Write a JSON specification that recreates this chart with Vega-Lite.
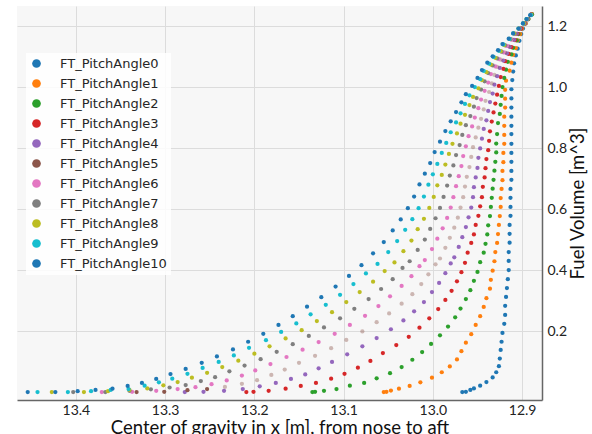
{
"$schema": "https://vega.github.io/schema/vega-lite/v6.json",
"width": 525,
"height": 394,
"autosize": {"type": "none"},
"padding": {"left": 17, "top": 6, "right": 50, "bottom": 34},
"background": "white",
"config": {"view": {"fill": "#f7f7f7", "stroke": null}},
"data": {"values": [
{"s":0,"x":12.967,"y":0},{"s":0,"x":12.963,"y":0.001},{"s":0,"x":12.958,"y":0.007},{"s":0,"x":12.954,"y":0.012},{"s":0,"x":12.947,"y":0.021},{"s":0,"x":12.940,"y":0.033},{"s":0,"x":12.933,"y":0.048},{"s":0,"x":12.929,"y":0.065},{"s":0,"x":12.926,"y":0.085},{"s":0,"x":12.925,"y":0.110},{"s":0,"x":12.924,"y":0.138},{"s":0,"x":12.923,"y":0.165},{"s":0,"x":12.922,"y":0.194},{"s":0,"x":12.920,"y":0.224},{"s":0,"x":12.919,"y":0.253},{"s":0,"x":12.919,"y":0.283},{"s":0,"x":12.918,"y":0.312},{"s":0,"x":12.917,"y":0.341},{"s":0,"x":12.916,"y":0.370},{"s":0,"x":12.915,"y":0.400},{"s":0,"x":12.915,"y":0.430},{"s":0,"x":12.915,"y":0.459},{"s":0,"x":12.914,"y":0.490},{"s":0,"x":12.914,"y":0.519},{"s":0,"x":12.914,"y":0.548},{"s":0,"x":12.913,"y":0.578},{"s":0,"x":12.913,"y":0.607},{"s":0,"x":12.913,"y":0.637},{"s":0,"x":12.913,"y":0.666},{"s":0,"x":12.912,"y":0.696},{"s":0,"x":12.912,"y":0.725},{"s":0,"x":12.912,"y":0.755},{"s":0,"x":12.912,"y":0.784},{"s":0,"x":12.912,"y":0.814},{"s":0,"x":12.912,"y":0.846},{"s":0,"x":12.912,"y":0.873},{"s":0,"x":12.912,"y":0.903},{"s":0,"x":12.912,"y":0.933},{"s":0,"x":12.912,"y":0.963},{"s":0,"x":12.912,"y":0.993},{"s":0,"x":12.911,"y":1.023},{"s":0,"x":12.910,"y":1.051},{"s":0,"x":12.909,"y":1.078},{"s":0,"x":12.907,"y":1.104},{"s":0,"x":12.905,"y":1.126},{"s":0,"x":12.903,"y":1.152},{"s":0,"x":12.901,"y":1.174},{"s":0,"x":12.899,"y":1.192},{"s":0,"x":12.896,"y":1.209},{"s":0,"x":12.893,"y":1.223},{"s":0,"x":12.889,"y":1.239},
{"s":1,"x":13.055,"y":0},{"s":1,"x":13.052,"y":0.001},{"s":1,"x":13.047,"y":0.005},{"s":1,"x":13.038,"y":0.011},{"s":1,"x":13.026,"y":0.020},{"s":1,"x":13.014,"y":0.032},{"s":1,"x":13.001,"y":0.047},{"s":1,"x":12.990,"y":0.065},{"s":1,"x":12.981,"y":0.084},{"s":1,"x":12.973,"y":0.107},{"s":1,"x":12.968,"y":0.134},{"s":1,"x":12.963,"y":0.162},{"s":1,"x":12.957,"y":0.190},{"s":1,"x":12.952,"y":0.220},{"s":1,"x":12.947,"y":0.249},{"s":1,"x":12.943,"y":0.279},{"s":1,"x":12.940,"y":0.308},{"s":1,"x":12.936,"y":0.339},{"s":1,"x":12.935,"y":0.368},{"s":1,"x":12.933,"y":0.398},{"s":1,"x":12.931,"y":0.429},{"s":1,"x":12.930,"y":0.459},{"s":1,"x":12.928,"y":0.489},{"s":1,"x":12.927,"y":0.518},{"s":1,"x":12.926,"y":0.548},{"s":1,"x":12.925,"y":0.577},{"s":1,"x":12.924,"y":0.607},{"s":1,"x":12.924,"y":0.636},{"s":1,"x":12.923,"y":0.666},{"s":1,"x":12.922,"y":0.695},{"s":1,"x":12.922,"y":0.725},{"s":1,"x":12.921,"y":0.754},{"s":1,"x":12.921,"y":0.784},{"s":1,"x":12.920,"y":0.814},{"s":1,"x":12.920,"y":0.843},{"s":1,"x":12.920,"y":0.873},{"s":1,"x":12.920,"y":0.903},{"s":1,"x":12.919,"y":0.933},{"s":1,"x":12.919,"y":0.962},{"s":1,"x":12.919,"y":0.991},{"s":1,"x":12.918,"y":1.021},{"s":1,"x":12.914,"y":1.054},{"s":1,"x":12.912,"y":1.080},{"s":1,"x":12.910,"y":1.106},{"s":1,"x":12.907,"y":1.128},{"s":1,"x":12.905,"y":1.153},{"s":1,"x":12.902,"y":1.174},{"s":1,"x":12.900,"y":1.192},{"s":1,"x":12.896,"y":1.209},{"s":1,"x":12.893,"y":1.223},{"s":1,"x":12.889,"y":1.239},
{"s":2,"x":13.135,"y":0},{"s":2,"x":13.132,"y":0.001},{"s":2,"x":13.122,"y":0.004},{"s":2,"x":13.108,"y":0.010},{"s":2,"x":13.093,"y":0.021},{"s":2,"x":13.077,"y":0.030},{"s":2,"x":13.063,"y":0.045},{"s":2,"x":13.048,"y":0.062},{"s":2,"x":13.035,"y":0.082},{"s":2,"x":13.023,"y":0.106},{"s":2,"x":13.012,"y":0.131},{"s":2,"x":13.002,"y":0.158},{"s":2,"x":12.992,"y":0.186},{"s":2,"x":12.983,"y":0.215},{"s":2,"x":12.975,"y":0.245},{"s":2,"x":12.969,"y":0.274},{"s":2,"x":12.963,"y":0.305},{"s":2,"x":12.958,"y":0.334},{"s":2,"x":12.954,"y":0.365},{"s":2,"x":12.950,"y":0.394},{"s":2,"x":12.947,"y":0.426},{"s":2,"x":12.943,"y":0.457},{"s":2,"x":12.941,"y":0.486},{"s":2,"x":12.939,"y":0.517},{"s":2,"x":12.938,"y":0.547},{"s":2,"x":12.936,"y":0.577},{"s":2,"x":12.935,"y":0.607},{"s":2,"x":12.934,"y":0.637},{"s":2,"x":12.933,"y":0.667},{"s":2,"x":12.932,"y":0.696},{"s":2,"x":12.931,"y":0.726},{"s":2,"x":12.930,"y":0.755},{"s":2,"x":12.929,"y":0.786},{"s":2,"x":12.929,"y":0.815},{"s":2,"x":12.928,"y":0.846},{"s":2,"x":12.927,"y":0.882},{"s":2,"x":12.925,"y":0.912},{"s":2,"x":12.924,"y":0.942},{"s":2,"x":12.923,"y":0.971},{"s":2,"x":12.922,"y":1.000},{"s":2,"x":12.920,"y":1.030},{"s":2,"x":12.918,"y":1.057},{"s":2,"x":12.916,"y":1.083},{"s":2,"x":12.912,"y":1.107},{"s":2,"x":12.910,"y":1.129},{"s":2,"x":12.906,"y":1.153},{"s":2,"x":12.904,"y":1.174},{"s":2,"x":12.901,"y":1.192},{"s":2,"x":12.897,"y":1.209},{"s":2,"x":12.893,"y":1.223},{"s":2,"x":12.889,"y":1.238},
{"s":3,"x":13.209,"y":0},{"s":3,"x":13.201,"y":0.001},{"s":3,"x":13.184,"y":0.004},{"s":3,"x":13.165,"y":0.011},{"s":3,"x":13.148,"y":0.020},{"s":3,"x":13.131,"y":0.030},{"s":3,"x":13.114,"y":0.044},{"s":3,"x":13.099,"y":0.060},{"s":3,"x":13.084,"y":0.080},{"s":3,"x":13.070,"y":0.102},{"s":3,"x":13.056,"y":0.128},{"s":3,"x":13.041,"y":0.154},{"s":3,"x":13.027,"y":0.181},{"s":3,"x":13.015,"y":0.211},{"s":3,"x":13.004,"y":0.242},{"s":3,"x":12.994,"y":0.272},{"s":3,"x":12.986,"y":0.302},{"s":3,"x":12.979,"y":0.332},{"s":3,"x":12.973,"y":0.363},{"s":3,"x":12.968,"y":0.393},{"s":3,"x":12.964,"y":0.424},{"s":3,"x":12.961,"y":0.457},{"s":3,"x":12.957,"y":0.489},{"s":3,"x":12.954,"y":0.517},{"s":3,"x":12.952,"y":0.548},{"s":3,"x":12.949,"y":0.578},{"s":3,"x":12.947,"y":0.609},{"s":3,"x":12.945,"y":0.639},{"s":3,"x":12.944,"y":0.673},{"s":3,"x":12.942,"y":0.704},{"s":3,"x":12.941,"y":0.734},{"s":3,"x":12.940,"y":0.764},{"s":3,"x":12.938,"y":0.793},{"s":3,"x":12.937,"y":0.824},{"s":3,"x":12.936,"y":0.855},{"s":3,"x":12.934,"y":0.887},{"s":3,"x":12.932,"y":0.917},{"s":3,"x":12.930,"y":0.946},{"s":3,"x":12.928,"y":0.975},{"s":3,"x":12.926,"y":1.004},{"s":3,"x":12.924,"y":1.033},{"s":3,"x":12.921,"y":1.060},{"s":3,"x":12.919,"y":1.085},{"s":3,"x":12.915,"y":1.109},{"s":3,"x":12.912,"y":1.131},{"s":3,"x":12.908,"y":1.154},{"s":3,"x":12.905,"y":1.175},{"s":3,"x":12.901,"y":1.192},{"s":3,"x":12.897,"y":1.209},{"s":3,"x":12.894,"y":1.223},{"s":3,"x":12.890,"y":1.238},
{"s":4,"x":13.278,"y":0},{"s":4,"x":13.257,"y":0.001},{"s":4,"x":13.234,"y":0.004},{"s":4,"x":13.213,"y":0.010},{"s":4,"x":13.194,"y":0.019},{"s":4,"x":13.176,"y":0.030},{"s":4,"x":13.159,"y":0.043},{"s":4,"x":13.143,"y":0.058},{"s":4,"x":13.128,"y":0.078},{"s":4,"x":13.113,"y":0.099},{"s":4,"x":13.096,"y":0.124},{"s":4,"x":13.079,"y":0.150},{"s":4,"x":13.063,"y":0.177},{"s":4,"x":13.047,"y":0.206},{"s":4,"x":13.033,"y":0.235},{"s":4,"x":13.021,"y":0.265},{"s":4,"x":13.010,"y":0.295},{"s":4,"x":13.001,"y":0.328},{"s":4,"x":12.993,"y":0.358},{"s":4,"x":12.986,"y":0.390},{"s":4,"x":12.980,"y":0.422},{"s":4,"x":12.976,"y":0.442},{"s":4,"x":12.971,"y":0.476},{"s":4,"x":12.967,"y":0.508},{"s":4,"x":12.963,"y":0.541},{"s":4,"x":12.960,"y":0.573},{"s":4,"x":12.957,"y":0.605},{"s":4,"x":12.955,"y":0.639},{"s":4,"x":12.954,"y":0.672},{"s":4,"x":12.952,"y":0.704},{"s":4,"x":12.950,"y":0.735},{"s":4,"x":12.949,"y":0.768},{"s":4,"x":12.947,"y":0.799},{"s":4,"x":12.945,"y":0.831},{"s":4,"x":12.943,"y":0.863},{"s":4,"x":12.940,"y":0.891},{"s":4,"x":12.938,"y":0.922},{"s":4,"x":12.936,"y":0.951},{"s":4,"x":12.933,"y":0.979},{"s":4,"x":12.931,"y":1.008},{"s":4,"x":12.928,"y":1.036},{"s":4,"x":12.925,"y":1.063},{"s":4,"x":12.921,"y":1.087},{"s":4,"x":12.917,"y":1.111},{"s":4,"x":12.914,"y":1.132},{"s":4,"x":12.909,"y":1.155},{"s":4,"x":12.906,"y":1.175},{"s":4,"x":12.902,"y":1.192},{"s":4,"x":12.897,"y":1.209},{"s":4,"x":12.894,"y":1.223},{"s":4,"x":12.890,"y":1.238},
{"s":5,"x":13.332,"y":0},{"s":5,"x":13.301,"y":0.001},{"s":5,"x":13.275,"y":0.006},{"s":5,"x":13.253,"y":0.010},{"s":5,"x":13.233,"y":0.017},{"s":5,"x":13.214,"y":0.027},{"s":5,"x":13.197,"y":0.039},{"s":5,"x":13.181,"y":0.056},{"s":5,"x":13.166,"y":0.074},{"s":5,"x":13.150,"y":0.096},{"s":5,"x":13.132,"y":0.119},{"s":5,"x":13.114,"y":0.144},{"s":5,"x":13.097,"y":0.171},{"s":5,"x":13.079,"y":0.199},{"s":5,"x":13.063,"y":0.229},{"s":5,"x":13.049,"y":0.258},{"s":5,"x":13.035,"y":0.290},{"s":5,"x":13.023,"y":0.321},{"s":5,"x":13.013,"y":0.354},{"s":5,"x":13.005,"y":0.386},{"s":5,"x":12.997,"y":0.419},{"s":5,"x":12.992,"y":0.438},{"s":5,"x":12.986,"y":0.473},{"s":5,"x":12.981,"y":0.506},{"s":5,"x":12.976,"y":0.539},{"s":5,"x":12.972,"y":0.572},{"s":5,"x":12.969,"y":0.605},{"s":5,"x":12.966,"y":0.639},{"s":5,"x":12.964,"y":0.674},{"s":5,"x":12.962,"y":0.706},{"s":5,"x":12.959,"y":0.738},{"s":5,"x":12.957,"y":0.771},{"s":5,"x":12.955,"y":0.803},{"s":5,"x":12.952,"y":0.835},{"s":5,"x":12.949,"y":0.867},{"s":5,"x":12.946,"y":0.896},{"s":5,"x":12.943,"y":0.927},{"s":5,"x":12.941,"y":0.955},{"s":5,"x":12.937,"y":0.984},{"s":5,"x":12.934,"y":1.012},{"s":5,"x":12.931,"y":1.040},{"s":5,"x":12.928,"y":1.066},{"s":5,"x":12.924,"y":1.090},{"s":5,"x":12.919,"y":1.113},{"s":5,"x":12.915,"y":1.134},{"s":5,"x":12.911,"y":1.156},{"s":5,"x":12.907,"y":1.175},{"s":5,"x":12.902,"y":1.192},{"s":5,"x":12.897,"y":1.209},{"s":5,"x":12.894,"y":1.223},{"s":5,"x":12.890,"y":1.238},
{"s":6,"x":13.371,"y":0},{"s":6,"x":13.337,"y":0.001},{"s":6,"x":13.310,"y":0.004},{"s":6,"x":13.286,"y":0.010},{"s":6,"x":13.266,"y":0.016},{"s":6,"x":13.248,"y":0.026},{"s":6,"x":13.231,"y":0.038},{"s":6,"x":13.214,"y":0.054},{"s":6,"x":13.199,"y":0.071},{"s":6,"x":13.182,"y":0.092},{"s":6,"x":13.164,"y":0.115},{"s":6,"x":13.146,"y":0.139},{"s":6,"x":13.128,"y":0.164},{"s":6,"x":13.110,"y":0.191},{"s":6,"x":13.093,"y":0.220},{"s":6,"x":13.076,"y":0.250},{"s":6,"x":13.061,"y":0.282},{"s":6,"x":13.048,"y":0.314},{"s":6,"x":13.035,"y":0.348},{"s":6,"x":13.024,"y":0.380},{"s":6,"x":13.015,"y":0.413},{"s":6,"x":13.009,"y":0.433},{"s":6,"x":13.001,"y":0.469},{"s":6,"x":12.995,"y":0.503},{"s":6,"x":12.989,"y":0.537},{"s":6,"x":12.984,"y":0.571},{"s":6,"x":12.980,"y":0.605},{"s":6,"x":12.977,"y":0.639},{"s":6,"x":12.974,"y":0.675},{"s":6,"x":12.971,"y":0.708},{"s":6,"x":12.968,"y":0.741},{"s":6,"x":12.966,"y":0.774},{"s":6,"x":12.963,"y":0.806},{"s":6,"x":12.960,"y":0.839},{"s":6,"x":12.956,"y":0.871},{"s":6,"x":12.953,"y":0.900},{"s":6,"x":12.949,"y":0.931},{"s":6,"x":12.946,"y":0.959},{"s":6,"x":12.942,"y":0.988},{"s":6,"x":12.938,"y":1.015},{"s":6,"x":12.935,"y":1.043},{"s":6,"x":12.930,"y":1.068},{"s":6,"x":12.926,"y":1.092},{"s":6,"x":12.921,"y":1.114},{"s":6,"x":12.917,"y":1.135},{"s":6,"x":12.912,"y":1.156},{"s":6,"x":12.908,"y":1.175},{"s":6,"x":12.903,"y":1.192},{"s":6,"x":12.898,"y":1.209},{"s":6,"x":12.894,"y":1.223},{"s":6,"x":12.890,"y":1.237},
{"s":7,"x":13.403,"y":0},{"s":7,"x":13.367,"y":0},{"s":7,"x":13.340,"y":0.004},{"s":7,"x":13.316,"y":0.009},{"s":7,"x":13.295,"y":0.015},{"s":7,"x":13.277,"y":0.023},{"s":7,"x":13.260,"y":0.036},{"s":7,"x":13.244,"y":0.049},{"s":7,"x":13.228,"y":0.068},{"s":7,"x":13.211,"y":0.087},{"s":7,"x":13.193,"y":0.108},{"s":7,"x":13.175,"y":0.132},{"s":7,"x":13.157,"y":0.157},{"s":7,"x":13.139,"y":0.184},{"s":7,"x":13.122,"y":0.212},{"s":7,"x":13.104,"y":0.242},{"s":7,"x":13.088,"y":0.273},{"s":7,"x":13.072,"y":0.305},{"s":7,"x":13.058,"y":0.338},{"s":7,"x":13.045,"y":0.370},{"s":7,"x":13.034,"y":0.407},{"s":7,"x":13.026,"y":0.429},{"s":7,"x":13.017,"y":0.466},{"s":7,"x":13.009,"y":0.500},{"s":7,"x":13.003,"y":0.535},{"s":7,"x":12.997,"y":0.570},{"s":7,"x":12.992,"y":0.604},{"s":7,"x":12.988,"y":0.640},{"s":7,"x":12.984,"y":0.677},{"s":7,"x":12.981,"y":0.710},{"s":7,"x":12.977,"y":0.743},{"s":7,"x":12.974,"y":0.777},{"s":7,"x":12.970,"y":0.810},{"s":7,"x":12.967,"y":0.843},{"s":7,"x":12.963,"y":0.875},{"s":7,"x":12.958,"y":0.905},{"s":7,"x":12.954,"y":0.936},{"s":7,"x":12.951,"y":0.964},{"s":7,"x":12.946,"y":0.992},{"s":7,"x":12.942,"y":1.019},{"s":7,"x":12.938,"y":1.046},{"s":7,"x":12.933,"y":1.071},{"s":7,"x":12.928,"y":1.094},{"s":7,"x":12.923,"y":1.116},{"s":7,"x":12.919,"y":1.137},{"s":7,"x":12.913,"y":1.157},{"s":7,"x":12.908,"y":1.175},{"s":7,"x":12.903,"y":1.192},{"s":7,"x":12.898,"y":1.209},{"s":7,"x":12.894,"y":1.223},{"s":7,"x":12.890,"y":1.237},
{"s":8,"x":13.427,"y":0},{"s":8,"x":13.391,"y":0},{"s":8,"x":13.364,"y":0.003},{"s":8,"x":13.340,"y":0.007},{"s":8,"x":13.320,"y":0.012},{"s":8,"x":13.302,"y":0.022},{"s":8,"x":13.286,"y":0.033},{"s":8,"x":13.270,"y":0.047},{"s":8,"x":13.253,"y":0.063},{"s":8,"x":13.236,"y":0.082},{"s":8,"x":13.218,"y":0.103},{"s":8,"x":13.200,"y":0.126},{"s":8,"x":13.183,"y":0.150},{"s":8,"x":13.165,"y":0.176},{"s":8,"x":13.147,"y":0.203},{"s":8,"x":13.130,"y":0.233},{"s":8,"x":13.113,"y":0.262},{"s":8,"x":13.097,"y":0.295},{"s":8,"x":13.082,"y":0.328},{"s":8,"x":13.067,"y":0.362},{"s":8,"x":13.054,"y":0.397},{"s":8,"x":13.043,"y":0.425},{"s":8,"x":13.033,"y":0.462},{"s":8,"x":13.024,"y":0.497},{"s":8,"x":13.017,"y":0.534},{"s":8,"x":13.010,"y":0.568},{"s":8,"x":13.004,"y":0.604},{"s":8,"x":12.999,"y":0.640},{"s":8,"x":12.995,"y":0.678},{"s":8,"x":12.990,"y":0.712},{"s":8,"x":12.986,"y":0.746},{"s":8,"x":12.982,"y":0.781},{"s":8,"x":12.978,"y":0.814},{"s":8,"x":12.973,"y":0.848},{"s":8,"x":12.969,"y":0.880},{"s":8,"x":12.964,"y":0.909},{"s":8,"x":12.959,"y":0.941},{"s":8,"x":12.955,"y":0.968},{"s":8,"x":12.949,"y":0.996},{"s":8,"x":12.945,"y":1.023},{"s":8,"x":12.940,"y":1.049},{"s":8,"x":12.935,"y":1.074},{"s":8,"x":12.930,"y":1.096},{"s":8,"x":12.924,"y":1.118},{"s":8,"x":12.920,"y":1.138},{"s":8,"x":12.914,"y":1.158},{"s":8,"x":12.909,"y":1.176},{"s":8,"x":12.904,"y":1.192},{"s":8,"x":12.898,"y":1.209},{"s":8,"x":12.895,"y":1.223},{"s":8,"x":12.890,"y":1.237},
{"s":9,"x":13.443,"y":0},{"s":9,"x":13.409,"y":0},{"s":9,"x":13.383,"y":0.003},{"s":9,"x":13.361,"y":0.007},{"s":9,"x":13.341,"y":0.010},{"s":9,"x":13.323,"y":0.021},{"s":9,"x":13.307,"y":0.032},{"s":9,"x":13.292,"y":0.044},{"s":9,"x":13.275,"y":0.060},{"s":9,"x":13.258,"y":0.079},{"s":9,"x":13.240,"y":0.099},{"s":9,"x":13.223,"y":0.120},{"s":9,"x":13.206,"y":0.145},{"s":9,"x":13.187,"y":0.170},{"s":9,"x":13.170,"y":0.197},{"s":9,"x":13.153,"y":0.225},{"s":9,"x":13.137,"y":0.255},{"s":9,"x":13.120,"y":0.286},{"s":9,"x":13.104,"y":0.319},{"s":9,"x":13.089,"y":0.354},{"s":9,"x":13.075,"y":0.389},{"s":9,"x":13.062,"y":0.420},{"s":9,"x":13.050,"y":0.459},{"s":9,"x":13.040,"y":0.495},{"s":9,"x":13.031,"y":0.532},{"s":9,"x":13.023,"y":0.567},{"s":9,"x":13.016,"y":0.603},{"s":9,"x":13.010,"y":0.641},{"s":9,"x":13.005,"y":0.680},{"s":9,"x":13.000,"y":0.714},{"s":9,"x":12.995,"y":0.748},{"s":9,"x":12.990,"y":0.784},{"s":9,"x":12.985,"y":0.817},{"s":9,"x":12.980,"y":0.852},{"s":9,"x":12.974,"y":0.884},{"s":9,"x":12.969,"y":0.914},{"s":9,"x":12.964,"y":0.945},{"s":9,"x":12.959,"y":0.973},{"s":9,"x":12.953,"y":1.000},{"s":9,"x":12.947,"y":1.026},{"s":9,"x":12.943,"y":1.053},{"s":9,"x":12.937,"y":1.077},{"s":9,"x":12.932,"y":1.099},{"s":9,"x":12.926,"y":1.119},{"s":9,"x":12.921,"y":1.140},{"s":9,"x":12.914,"y":1.158},{"s":9,"x":12.910,"y":1.176},{"s":9,"x":12.904,"y":1.192},{"s":9,"x":12.899,"y":1.209},{"s":9,"x":12.895,"y":1.223},{"s":9,"x":12.890,"y":1.236},
{"s":10,"x":13.454,"y":0},{"s":10,"x":13.423,"y":0},{"s":10,"x":13.398,"y":0.003},{"s":10,"x":13.378,"y":0.007},{"s":10,"x":13.359,"y":0.011},{"s":10,"x":13.342,"y":0.020},{"s":10,"x":13.326,"y":0.030},{"s":10,"x":13.310,"y":0.043},{"s":10,"x":13.294,"y":0.059},{"s":10,"x":13.277,"y":0.076},{"s":10,"x":13.259,"y":0.096},{"s":10,"x":13.242,"y":0.117},{"s":10,"x":13.224,"y":0.140},{"s":10,"x":13.207,"y":0.165},{"s":10,"x":13.190,"y":0.191},{"s":10,"x":13.173,"y":0.220},{"s":10,"x":13.157,"y":0.249},{"s":10,"x":13.141,"y":0.280},{"s":10,"x":13.125,"y":0.311},{"s":10,"x":13.109,"y":0.346},{"s":10,"x":13.094,"y":0.381},{"s":10,"x":13.080,"y":0.416},{"s":10,"x":13.067,"y":0.455},{"s":10,"x":13.055,"y":0.492},{"s":10,"x":13.045,"y":0.530},{"s":10,"x":13.036,"y":0.566},{"s":10,"x":13.028,"y":0.603},{"s":10,"x":13.021,"y":0.641},{"s":10,"x":13.015,"y":0.681},{"s":10,"x":13.009,"y":0.716},{"s":10,"x":13.003,"y":0.751},{"s":10,"x":12.998,"y":0.787},{"s":10,"x":12.992,"y":0.821},{"s":10,"x":12.986,"y":0.856},{"s":10,"x":12.980,"y":0.888},{"s":10,"x":12.974,"y":0.918},{"s":10,"x":12.968,"y":0.950},{"s":10,"x":12.963,"y":0.977},{"s":10,"x":12.956,"y":1.004},{"s":10,"x":12.950,"y":1.030},{"s":10,"x":12.945,"y":1.056},{"s":10,"x":12.939,"y":1.080},{"s":10,"x":12.933,"y":1.101},{"s":10,"x":12.927,"y":1.121},{"s":10,"x":12.922,"y":1.141},{"s":10,"x":12.915,"y":1.159},{"s":10,"x":12.910,"y":1.176},{"s":10,"x":12.904,"y":1.192},{"s":10,"x":12.899,"y":1.209},{"s":10,"x":12.895,"y":1.223},{"s":10,"x":12.891,"y":1.236}
]},
"mark": {"type": "circle", "size": 18},
"encoding": {
  "x": {"field": "x", "type": "quantitative",
    "scale": {"domain": [12.8777, 13.466], "reverse": true, "nice": false, "zero": false},
    "axis": {"values": [13.4, 13.3, 13.2, 13.1, 13.0, 12.9], "format": ".1f", "title": "Center of gravity in x [m], from nose to aft",
      "grid": true, "gridColor": "#dcdcdc", "ticks": false, "domainColor": "#666666", "domainWidth": 1.5,
      "labelFont": "Lato", "labelFontSize": 14, "labelColor": "#222222", "labelPadding": 3,
      "titleFont": "Lato", "titleFontSize": 18.5, "titleFontWeight": "normal", "titleColor": "#111111", "titlePadding": 1}},
  "y": {"field": "y", "type": "quantitative",
    "scale": {"domain": [-0.026, 1.266], "nice": false, "zero": false},
    "axis": {"orient": "right", "values": [0.2, 0.4, 0.6, 0.8, 1.0, 1.2], "format": ".1f", "title": "Fuel Volume [m^3]",
      "grid": true, "gridColor": "#dcdcdc", "ticks": false, "domainColor": "#666666", "domainWidth": 1.5,
      "labelFont": "Lato", "labelFontSize": 14, "labelColor": "#222222", "labelPadding": 5,
      "titleFont": "Lato", "titleFontSize": 18.5, "titleFontWeight": "normal", "titleColor": "#111111", "titleAngle": -90, "titlePadding": 21}},
  "color": {"field": "s", "type": "nominal",
    "scale": {"domain": [0,1,2,3,4,5,6,7,8,9,10], "range": ["#1f77b4","#ff7f0e","#2ca02c","#d62728","#9467bd","#8c564b","#e377c2","#7f7f7f","#bcbd22","#17becf","#1f77b4"]},
    "legend": {"title": null, "orient": "none", "legendX": 9, "legendY": 47, "symbolType": "circle", "symbolSize": 75,
      "symbolOpacity": 1, "labelFont": "DejaVu Sans", "labelFontSize": 13, "labelColor": "#262626", "labelOffset": 17,
      "rowPadding": 6, "padding": 4, "fillColor": "rgba(255,255,255,0.85)", "labelExpr": "'FT_PitchAngle' + datum.label", "labelLimit": 200}},
  "opacity": {"condition": {"test": "datum.s === 5 && datum.y > 0.012", "value": 0.4}, "value": 1}
}
}
